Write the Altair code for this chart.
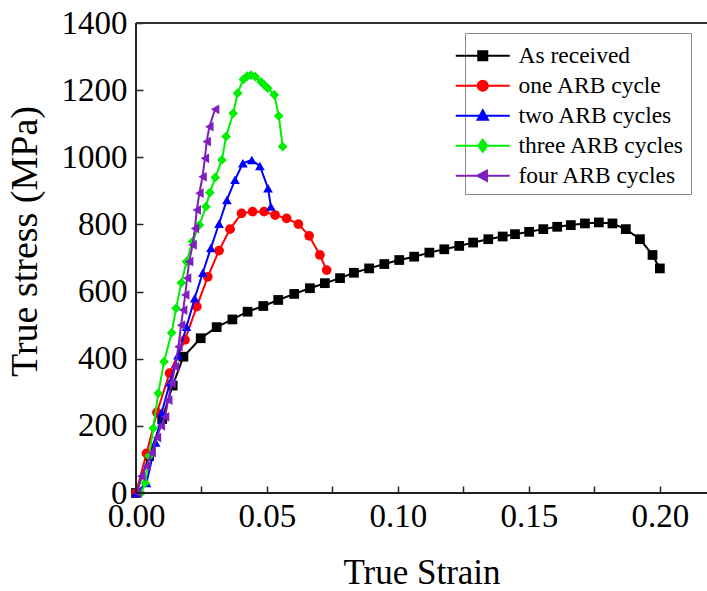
import altair as alt
import pandas as pd

series_names = ["As received", "one ARB cycle", "two ARB cycles", "three ARB cycles", "four ARB cycles"]
colors = ["#000000", "#ff0000", "#0000ff", "#00ee00", "#7f1fbf"]
shapes = ["square", "circle", "triangle-up", "diamond", "triangle-left"]

ar_strain = [0, 0.005, 0.010, 0.014, 0.0181, 0.0247, 0.0308, 0.0368, 0.0426, 0.0486, 0.0543, 0.0604,
             0.0664, 0.0721, 0.0779, 0.0832, 0.0890, 0.0948, 0.1005, 0.1062, 0.1120, 0.1177, 0.1234,
             0.1287, 0.1345, 0.1400, 0.1447, 0.1501, 0.1555, 0.1608, 0.1660, 0.1714, 0.1767, 0.1819,
             0.1870, 0.1924, 0.1972, 0.2000]
ar_stress = [0, 110, 220, 320, 406, 461, 494, 517, 540, 557, 575, 593, 610, 625, 640, 656, 669, 682,
             694, 704, 716, 726, 736, 746, 756, 764, 771, 778, 786, 793, 798, 803, 806, 803, 786, 756,
             709, 669]

one_strain = [0, 0.004, 0.008, 0.0128, 0.0187, 0.0232, 0.0274, 0.0317, 0.0359, 0.0403, 0.0445, 0.0489,
              0.0531, 0.0575, 0.0620, 0.0661, 0.0702, 0.0728]
one_stress = [0, 118, 240, 357, 456, 555, 644, 722, 786, 833, 838, 838, 828, 818, 801, 766, 709, 664]

two_strain = [0, 0.004, 0.0075, 0.0098, 0.013, 0.016, 0.0193, 0.0224, 0.0255, 0.0286, 0.0317, 0.0347,
              0.0378, 0.0408, 0.0442, 0.0473, 0.0504, 0.0515]
two_stress = [0, 30, 150, 239, 330, 410, 495, 580, 656, 730, 802, 873, 933, 982, 992, 974, 908, 853]

three_strain = [0.002, 0.0035, 0.0050, 0.0066, 0.0085, 0.0107, 0.0136, 0.0153, 0.0173, 0.0193, 0.0216,
                0.0242, 0.0267, 0.0282, 0.0303, 0.0328, 0.0344, 0.0371, 0.0388, 0.0410, 0.0425, 0.0439,
                0.0455, 0.0477, 0.0490, 0.0503, 0.0528, 0.0545, 0.0560]
three_stress = [0, 30, 110, 193, 297, 391, 477, 550, 626, 689, 749, 798, 853, 895, 940, 992, 1062, 1131,
                1191, 1232, 1242, 1245, 1240, 1225, 1215, 1206, 1186, 1123, 1032]

four_strain = [0.0005, 0.002, 0.004, 0.006, 0.008, 0.0095, 0.0111, 0.0123, 0.0136, 0.0149, 0.0162,
               0.0172, 0.0180, 0.0188, 0.0195, 0.0203, 0.0216, 0.0225, 0.0232, 0.0242, 0.0254, 0.0263,
               0.0270, 0.0280, 0.0302]
four_stress = [0, 50, 80, 120, 165, 200, 227, 277, 327, 376, 436, 500, 545, 590, 640, 689, 739, 788,
               843, 893, 942, 997, 1047, 1091, 1143]

x_ticks = [0, 0.025, 0.05, 0.075, 0.10, 0.125, 0.15, 0.175, 0.20]
y_ticks = list(range(0, 1500, 100))

# legend glyphs: line segment + marker (custom SVG paths, unit = sqrt(size)/2)
legend_paths = [
    "M-2.7,0L2.7,0M-0.45,-0.45L0.45,-0.45L0.45,0.45L-0.45,0.45Z",
    "M-2.7,0L2.7,0M0.5,0A0.5,0.5 0 1,1 -0.5,0A0.5,0.5 0 1,1 0.5,0Z",
    "M-2.7,0L2.7,0M0,-0.55L0.52,0.4L-0.52,0.4Z",
    "M-2.7,0L2.7,0M0,-0.6L0.45,0L0,0.6L-0.45,0Z",
    "M-2.7,0L2.7,0M-0.55,0L0.42,-0.52L0.42,0.52Z",
]

all_strain = [ar_strain, one_strain, two_strain, three_strain, four_strain]
all_stress = [ar_stress, one_stress, two_stress, three_stress, four_stress]

rows = []
for name, xs, ys in zip(series_names, all_strain, all_stress):
    for k, (a, b) in enumerate(zip(xs, ys)):
        rows.append({"series": name, "strain": a, "stress": b, "idx": k})
df = pd.DataFrame(rows)

FONT = "Liberation Serif"

x_axis = alt.Axis(values=x_ticks, title="True Strain", orient="bottom", offset=-7, tickSize=7,
                  tickWidth=1.5, tickColor="#222", domain=False, grid=False, labelPadding=7,
                  labelExpr="round(datum.value*1000) % 50 == 0 ? format(datum.value, '.2f') : ''",
                  labelFlush=False, titlePadding=22, titleFontSize=35)
y_axis = alt.Axis(values=y_ticks, title="True stress (MPa)", orient="left", offset=-7, tickSize=7,
                  tickWidth=1.5, tickColor="#222", domain=False, grid=False, labelPadding=9,
                  labelExpr="datum.value % 200 == 0 ? datum.value : ''",
                  labelFlush=False, titlePadding=17, titleFontSize=38, titleY=218)

X = alt.X("strain:Q", scale=alt.Scale(domain=[0, 0.218], nice=False), axis=x_axis)
Y = alt.Y("stress:Q", scale=alt.Scale(domain=[0, 1400], nice=False), axis=y_axis)

layers = []
for name, col, shp in zip(series_names, colors, shapes):
    sub = df[df["series"] == name]
    layers.append(alt.Chart(sub).mark_line(color=col, strokeWidth=2).encode(x=X, y=Y, order="idx:Q"))
    layers.append(alt.Chart(sub).mark_point(filled=True, shape=shp, color=col, size=95, opacity=1)
                  .encode(x=X, y=Y))

legend = alt.Legend(title=" ", titleFontSize=1, titlePadding=4, orient="none", legendX=329, legendY=10,
                    padding=6, strokeColor="#888", fillColor="white", labelFont=FONT,
                    labelFontSize=23.5, labelColor="black", symbolSize=400, symbolStrokeWidth=2,
                    labelOffset=24, rowPadding=5, labelLimit=400)

legend_layer = alt.Chart(df).transform_filter("false").mark_point(filled=True, opacity=1).encode(
    x=X, y=Y,
    fill=alt.Fill("series:N", scale=alt.Scale(domain=series_names, range=colors), legend=legend),
    stroke=alt.Stroke("series:N", scale=alt.Scale(domain=series_names, range=colors), legend=legend),
    shape=alt.Shape("series:N", scale=alt.Scale(domain=series_names, range=legend_paths), legend=legend),
)

frame_top = alt.Chart(df).mark_rule(color="#333", strokeWidth=2).encode(y=alt.datum(1400))
frame_left = alt.Chart(df).mark_rule(color="#222", strokeWidth=2).encode(x=alt.datum(0))
frame_bottom = alt.Chart(df).mark_rule(color="#222", strokeWidth=2).encode(y=alt.datum(0))

chart = alt.layer(*layers, legend_layer, frame_top, frame_left, frame_bottom).properties(
    width=571, height=470,
    padding={"left": 136, "top": 23, "right": 0, "bottom": 98},
    autosize=alt.AutoSizeParams(type="none"),
    background="white",
).configure_view(stroke=None).configure_axis(
    labelFont=FONT, titleFont=FONT, labelFontSize=33, labelColor="black",
    titleColor="black", titleFontWeight="normal",
)

chart.save("out.html", embed_options={"renderer": "svg", "actions": False})
